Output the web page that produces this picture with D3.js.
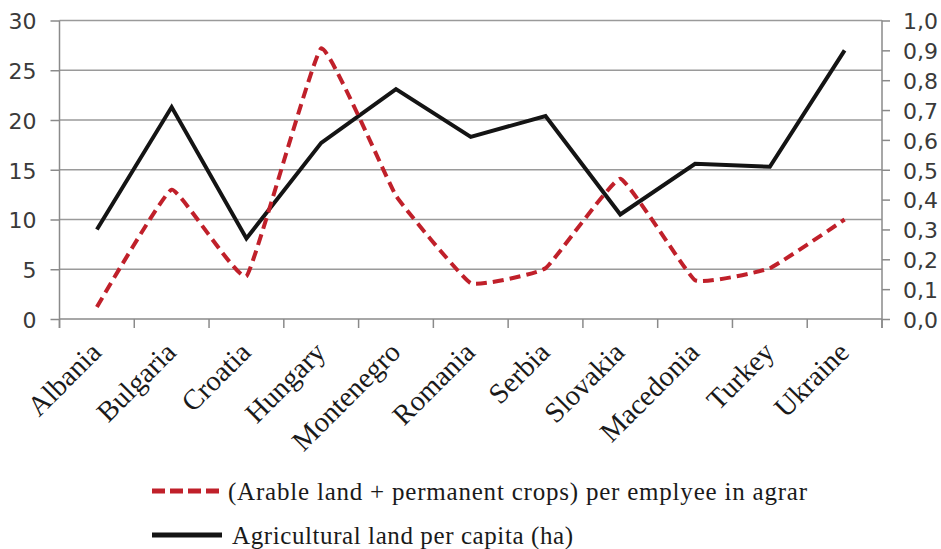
<!DOCTYPE html>
<html>
<head>
<meta charset="utf-8">
<script src="https://cdn.jsdelivr.net/npm/d3@7"></script>
<style>
  html, body { margin: 0; padding: 0; background: #fff; }
  svg { display: block; }
</style>
</head>
<body>
<svg id="chart" width="941" height="549"></svg>
<script>
// ---- data ----
const categories = ["Albania", "Bulgaria", "Croatia", "Hungary", "Montenegro", "Romania", "Serbia", "Slovakia", "Macedonia", "Turkey", "Ukraine"];
const arableValues = [1.2, 13.0, 4.3, 27.2, 12.4, 3.6, 5.1, 14.1, 3.9, 5.1, 10.0];   // left axis
const agriValues = [0.30, 0.71, 0.27, 0.59, 0.77, 0.61, 0.68, 0.35, 0.52, 0.51, 0.90]; // right axis
const leftTicks = [0, 5, 10, 15, 20, 25, 30];
const rightTicks = [0, 0.1, 0.2, 0.3, 0.4, 0.5, 0.6, 0.7, 0.8, 0.9, 1.0];
const seriesNames = ["(Arable land + permanent crops) per emplyee in agrar", "Agricultural land per capita (ha)"];

// ---- layout ----
const svg = d3.select("#chart");
const L = 59.5, R = 882, T = 20.5, B = 319;
const red = "#c0202a", black = "#141414", gridC = "#9a9a9a", axisC = "#8a8a8a";

const x = d3.scaleBand().domain(categories).range([L, R]).paddingInner(0).paddingOuter(0);
const yL = d3.scaleLinear().domain([0, 30]).range([B, T]);
const yR = d3.scaleLinear().domain([0, 1]).range([B, T]);
const cx = d => x(d) + x.bandwidth() / 2;

// gridlines
svg.append("g").selectAll("line").data(leftTicks.filter(t => t > 0)).join("line")
  .attr("x1", L).attr("x2", R).attr("y1", d => yL(d)).attr("y2", d => yL(d))
  .attr("stroke", gridC).attr("stroke-width", 1.5);

// left axis
const gL = svg.append("g").attr("transform", `translate(${L},0)`)
  .call(d3.axisLeft(yL).tickValues(leftTicks).tickSize(9).tickPadding(14).tickFormat(d3.format("d")));
gL.select(".domain").attr("stroke", axisC).attr("stroke-width", 1.5).attr("d", `M0,${T}V${B + 9}`);
gL.selectAll(".tick line").attr("stroke", axisC).attr("stroke-width", 1.5);
gL.selectAll(".tick text").attr("font-family", "DejaVu Sans, Verdana, sans-serif").attr("font-size", 22).attr("fill", "#3a3a3a").attr("dy", "0.38em");

// right axis
const gR = svg.append("g").attr("transform", `translate(${R},0)`)
  .call(d3.axisRight(yR).tickValues(rightTicks).tickSize(8).tickPadding(13).tickFormat(d => d.toFixed(1).replace(".", ",")));
gR.select(".domain").attr("stroke", axisC).attr("stroke-width", 1.5).attr("d", `M0,${T}V${B + 9}`);
gR.selectAll(".tick line").attr("stroke", axisC).attr("stroke-width", 1.5);
gR.selectAll(".tick text").attr("font-family", "DejaVu Sans, Verdana, sans-serif").attr("font-size", 22).attr("fill", "#3a3a3a").attr("dy", "0.38em");

// bottom axis line + boundary ticks
svg.append("line").attr("x1", L).attr("x2", R).attr("y1", B).attr("y2", B).attr("stroke", axisC).attr("stroke-width", 1.5);
const bounds = categories.map(c => x(c)).concat([x(categories[categories.length - 1]) + x.bandwidth()]);
svg.append("g").selectAll("line").data(bounds).join("line")
  .attr("x1", d => d).attr("x2", d => d).attr("y1", B).attr("y2", B + 9)
  .attr("stroke", axisC).attr("stroke-width", 1.5);

// category labels
svg.append("g").selectAll("text").data(categories).join("text")
  .attr("transform", d => `translate(${cx(d) + 6},${B + 35}) rotate(-45)`)
  .attr("text-anchor", "end")
  .attr("font-family", "Liberation Serif, Times New Roman, serif")
  .attr("font-size", 28.5).attr("fill", "#1a1a1a")
  .text(d => d);

// lines
const lineArable = d3.line().x((d, i) => cx(categories[i])).y(d => yL(d)).curve(d3.curveCardinal.tension(0.7));
const lineAgri = d3.line().x((d, i) => cx(categories[i])).y(d => yR(d));

svg.append("path").datum(agriValues).attr("d", lineAgri)
  .attr("fill", "none").attr("stroke", black).attr("stroke-width", 4).attr("stroke-linejoin", "miter");
svg.append("path").datum(arableValues).attr("d", lineArable)
  .attr("fill", "none").attr("stroke", red).attr("stroke-width", 4).attr("stroke-dasharray", "11,6");

// legend
const leg = svg.append("g");
leg.append("line").attr("x1", 152).attr("x2", 222).attr("y1", 491).attr("y2", 491)
  .attr("stroke", red).attr("stroke-width", 5).attr("stroke-dasharray", "13,5");
leg.append("text").attr("x", 228).attr("y", 500).attr("font-family", "Liberation Serif, Times New Roman, serif")
  .attr("font-size", 25).attr("fill", "#1a1a1a").attr("textLength", 579).attr("lengthAdjust", "spacing").text(seriesNames[0]);
leg.append("line").attr("x1", 152).attr("x2", 222).attr("y1", 535).attr("y2", 535)
  .attr("stroke", black).attr("stroke-width", 5);
leg.append("text").attr("x", 232).attr("y", 544).attr("font-family", "Liberation Serif, Times New Roman, serif")
  .attr("font-size", 25).attr("fill", "#1a1a1a").attr("textLength", 341).attr("lengthAdjust", "spacing").text(seriesNames[1]);
</script>
</body>
</html>
